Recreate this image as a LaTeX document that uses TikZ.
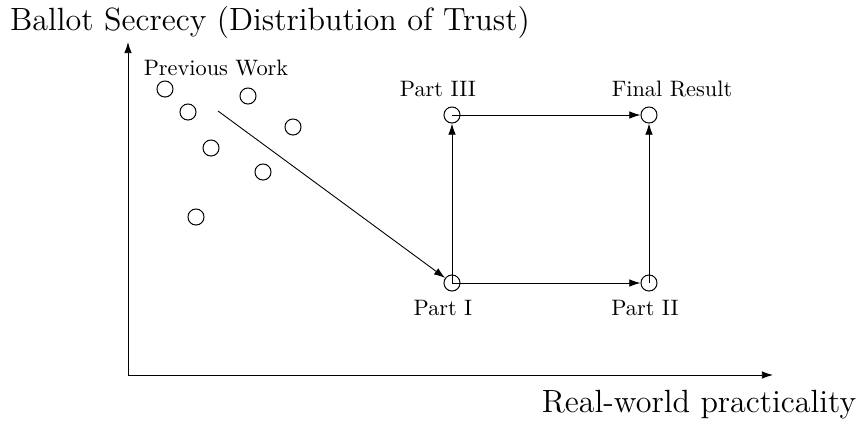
\documentclass[tikz,border=0pt]{standalone}
\usetikzlibrary{arrows.meta}
\begin{document}
\begin{tikzpicture}[x=0.448pt,y=-0.448pt,
  pt/.style={circle,draw,line width=0.45pt,minimum size=7.2pt,inner sep=0pt},
  lbl/.style={inner sep=0pt,font=\normalsize},
  biglbl/.style={inner sep=0pt,font=\fontsize{14.4}{17}\selectfont},
  conn/.style={line width=0.4pt,-{Latex[length=5pt,width=3.4pt]}},
  plain/.style={line width=0.4pt}]
\useasboundingbox (0,0) rectangle (861,425);
% axes
\coordinate (o) at (128,375);
\coordinate (ytop) at (128,42);
\coordinate (xend) at (773,375);
\draw[conn] (o) -- (ytop);
\draw[conn] (o) -- (xend);
\node[biglbl] (ylab) at (270,22) {Ballot Secrecy (Distribution of Trust)};
\node[biglbl] (xlab) at (699,405) {Real-world practicality};
% previous work
\node[lbl] (pwl) at (216,68) {Previous Work};
\node[pt] (c1) at (165,89) {};
\node[pt] (c2) at (188,112) {};
\node[pt] (c3) at (248,96) {};
\node[pt] (c4) at (293,127) {};
\node[pt] (c5) at (211,148) {};
\node[pt] (c6) at (263,172) {};
\node[pt] (c7) at (196,217) {};
\coordinate (dstart) at (218,111);
% parts
\node[pt] (p1) at (452,283) {};
\node[pt] (p2) at (649,283) {};
\node[pt] (p3) at (452,115) {};
\node[pt] (fr) at (649,115) {};
\node[lbl] (p1l) at (443,308) {Part I};
\node[lbl] (p2l) at (645,308) {Part II};
\node[lbl] (p3l) at (438,89) {Part III};
\node[lbl] (frl) at (672,89) {Final Result};
% connectors
\draw[conn] (dstart) -- (p1);
\draw[conn] (p1.center) -- (p3);
\draw[conn] (p1.center) -- (p2);
\draw[conn] (p2.center) -- (fr);
\draw[conn] (p3.center) -- (fr);
\end{tikzpicture}
\end{document}
